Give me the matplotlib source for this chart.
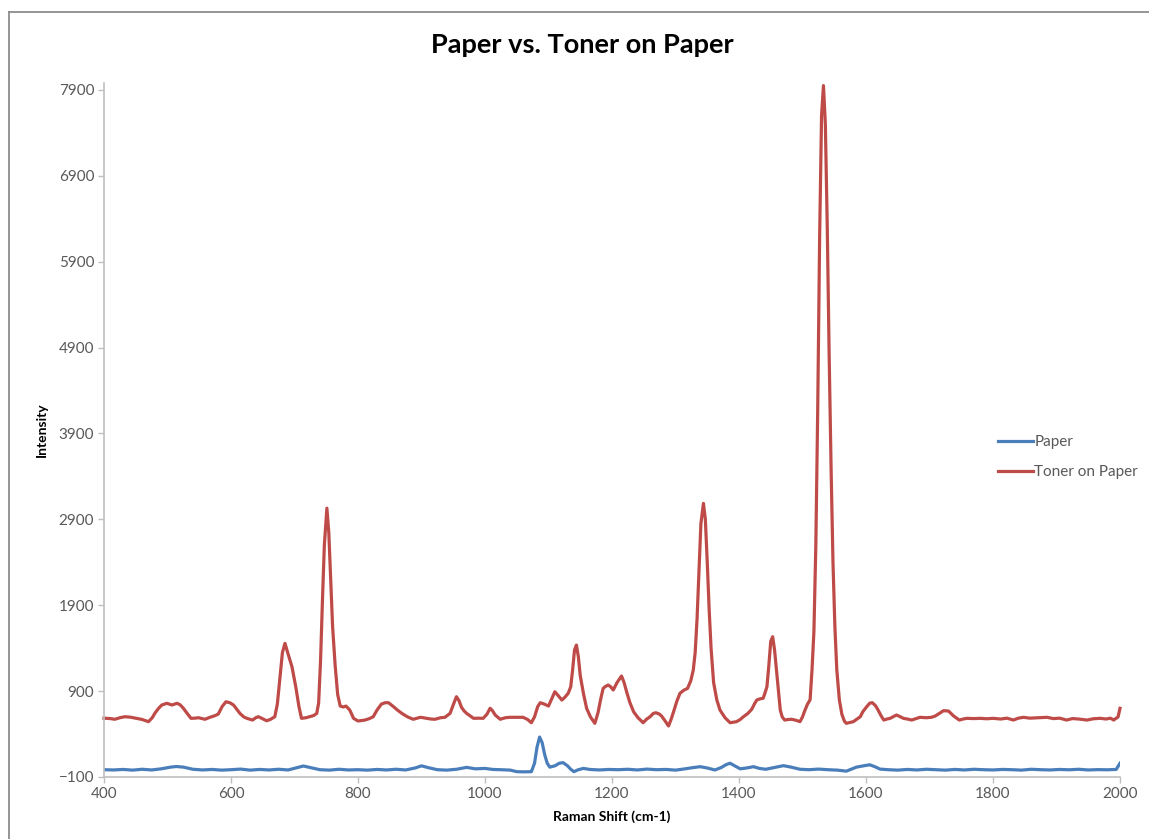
import matplotlib
matplotlib.use('Agg')
import matplotlib.pyplot as plt
from matplotlib.lines import Line2D

#%% Espectros Raman (cm-1, intensidad)

shift_toner = [400, 410, 417, 425, 433, 442, 451, 460, 470, 476, 480, 486, 491, 499, 507, 515, 520, 525, 531, 537,
               543, 549, 559, 565, 570, 575, 580, 586, 592, 598, 604, 609, 614, 620, 625, 634, 639, 643, 648, 656,
               662, 669, 673, 677, 681, 685, 690, 696, 702, 707, 711, 718, 724, 730, 735, 738, 741, 744, 747, 751,
               754, 757, 760, 764, 768, 772, 777, 781, 787, 793, 800, 811, 818, 824, 830, 837, 843, 848, 856, 862,
               869, 878, 887, 893, 898, 903, 908, 915, 921, 930, 937, 945, 950, 955, 959, 963, 967, 971, 977, 982,
               990, 997, 1003, 1008, 1012, 1016, 1024, 1032, 1039, 1050, 1060, 1067, 1073, 1078, 1083, 1087, 1093, 1100, 1105, 1110,
               1115, 1121, 1126, 1131, 1135, 1138, 1141, 1144, 1147, 1150, 1155, 1160, 1166, 1173, 1178, 1182, 1186, 1189, 1194, 1198,
               1202, 1208, 1215, 1219, 1223, 1228, 1234, 1241, 1249, 1254, 1260, 1265, 1269, 1274, 1278, 1283, 1289, 1293, 1297, 1302,
               1307, 1313, 1319, 1324, 1328, 1331, 1334, 1337, 1340, 1344, 1347, 1350, 1353, 1356, 1360, 1365, 1370, 1378, 1386, 1396,
               1402, 1407, 1414, 1420, 1425, 1428, 1433, 1438, 1441, 1444, 1447, 1450, 1453, 1456, 1459, 1462, 1465, 1468, 1472, 1478,
               1483, 1490, 1496, 1500, 1504, 1508, 1512, 1515, 1518, 1521, 1524, 1527, 1530, 1533, 1536, 1539, 1542, 1545, 1548, 1551,
               1554, 1558, 1562, 1566, 1569, 1575, 1580, 1586, 1591, 1595, 1601, 1606, 1610, 1615, 1619, 1624, 1628, 1633, 1638, 1648,
               1653, 1659, 1665, 1672, 1679, 1685, 1695, 1703, 1709, 1714, 1722, 1730, 1738, 1747, 1753, 1759, 1770, 1780, 1790, 1800,
               1812, 1822, 1832, 1840, 1848, 1858, 1870, 1885, 1895, 1905, 1916, 1925, 1935, 1948, 1958, 1969, 1978, 1985, 1990, 1995,
               1997, 2000]
int_toner = [585, 580, 572, 590, 602, 596, 583, 570, 544, 590, 641, 700, 738, 758, 738, 758, 740, 700, 640, 583,
             585, 590, 572, 590, 602, 615, 633, 720, 776, 765, 738, 690, 641, 600, 583, 563, 590, 602, 585, 555,
             570, 602, 750, 1050, 1350, 1456, 1330, 1184, 950, 720, 583, 590, 602, 615, 640, 760, 1250, 1950, 2600, 3030,
             2750, 2200, 1650, 1200, 860, 726, 715, 726, 680, 583, 552, 563, 580, 602, 680, 750, 765, 765, 718, 680,
             641, 600, 572, 585, 595, 590, 583, 575, 572, 590, 595, 641, 740, 835, 790, 711, 670, 641, 610, 583,
             585, 583, 630, 700, 670, 622, 572, 590, 595, 595, 595, 570, 532, 600, 720, 765, 750, 726, 810, 893,
             850, 796, 830, 874, 950, 1150, 1380, 1436, 1300, 1080, 874, 700, 600, 525, 650, 800, 930, 951, 971, 950,
             913, 1000, 1076, 1000, 893, 770, 660, 590, 532, 570, 602, 640, 648, 635, 610, 560, 494, 570, 660, 780,
             874, 910, 932, 1020, 1145, 1350, 1750, 2300, 2850, 3086, 2900, 2400, 1850, 1400, 1000, 800, 680, 590, 532, 544,
             570, 602, 640, 688, 760, 796, 810, 816, 880, 951, 1200, 1480, 1533, 1380, 1145, 900, 680, 600, 563, 570,
             572, 560, 544, 600, 680, 750, 800, 1150, 1600, 2600, 4200, 6200, 7600, 7950, 7500, 6300, 4800, 3500, 2400, 1650,
             1150, 800, 630, 550, 525, 535, 544, 575, 602, 660, 718, 760, 765, 730, 680, 610, 563, 575, 583, 622,
             605, 583, 575, 563, 580, 595, 590, 595, 610, 633, 672, 668, 610, 563, 575, 583, 580, 583, 578, 583,
             575, 585, 563, 585, 595, 585, 590, 595, 580, 585, 563, 580, 575, 563, 578, 583, 575, 585, 563, 590,
             600, 700]

shift_paper = [400, 415, 430, 445, 460, 475, 490, 505, 514, 525, 540, 555, 570, 585, 600, 615, 630, 645, 660, 675,
               690, 705, 714, 725, 740, 755, 770, 785, 800, 815, 830, 845, 860, 875, 890, 900, 910, 925, 940, 955,
               971, 985, 1000, 1012, 1025, 1040, 1050, 1062, 1073, 1078, 1082, 1086, 1090, 1094, 1098, 1102, 1110, 1117, 1123, 1130,
               1135, 1140, 1147, 1155, 1165, 1180, 1195, 1210, 1225, 1240, 1255, 1270, 1285, 1300, 1315, 1328, 1339, 1350, 1362, 1372,
               1380, 1386, 1392, 1402, 1412, 1423, 1432, 1442, 1455, 1470, 1482, 1496, 1510, 1525, 1540, 1555, 1569, 1578, 1585, 1596,
               1606, 1614, 1622, 1635, 1650, 1665, 1680, 1695, 1710, 1725, 1740, 1755, 1770, 1785, 1800, 1815, 1830, 1845, 1860, 1875,
               1890, 1905, 1920, 1935, 1950, 1965, 1980, 1994, 2000]
int_paper = [-15, -18, -12, -20, -10, -18, -5, 15, 22, 15, -10, -18, -12, -20, -15, -8, -20, -12, -18, -10,
             -18, 10, 28, 10, -15, -20, -10, -18, -15, -20, -12, -18, -10, -18, 5, 30, 10, -15, -20, -10,
             12, -5, 0, -12, -15, -20, -38, -40, -38, 60, 250, 365, 300, 160, 60, 15, 30, 60, 67, 30,
             -10, -38, -15, 0, -12, -18, -12, -15, -10, -18, -8, -15, -12, -20, -5, 10, 20, 5, -18, 10,
             45, 60, 35, -5, 5, 20, 0, -10, 10, 32, 15, -10, -15, -8, -15, -20, -32, -5, 15, 30,
             42, 20, -8, -15, -20, -12, -18, -10, -15, -20, -12, -18, -10, -15, -18, -12, -15, -20, -10, -15,
             -18, -12, -16, -10, -18, -14, -16, -12, 60]

y_ticks = [-100, 900, 1900, 2900, 3900, 4900, 5900, 6900, 7900]
x_ticks = [400, 600, 800, 1000, 1200, 1400, 1600, 1800, 2000]

#%% Figura

plt.rcParams['font.family'] = ['Lato', 'DejaVu Sans']
gris = '#595959'

fig = plt.figure(figsize=(11.49, 8.39), dpi=100)
ax = fig.add_axes([104/1149, 1 - 777/839, (1120 - 104)/1149, (777 - 83)/839])

ax.plot(shift_paper, int_paper, color='#4A7EBB', lw=2.3, label='Paper')
ax.plot(shift_toner, int_toner, color='#BE4B48', lw=2.3, label='Toner on Paper', clip_on=False)

ax.set_xlim(400, 2000)
ax.set_ylim(-100, 7980)
ax.set_xticks(x_ticks)
ax.set_yticks(y_ticks)
ax.tick_params(axis='both', direction='out', length=4, width=1, color='#BFBFBF',
               labelsize=11, labelcolor=gris, pad=3)

for s in ['top', 'right']:
    ax.spines[s].set_visible(False)
for s in ['left', 'bottom']:
    ax.spines[s].set_color('#BFBFBF')
    ax.spines[s].set_linewidth(1.2)

ax.set_xlabel('Raman Shift (cm-1)', fontsize=10, fontweight='bold', labelpad=7)
ax.set_ylabel('Intensity', fontsize=10, fontweight='bold', labelpad=8)
fig.text(582/1149, 1 - 45/839, 'Paper vs. Toner on Paper', ha='center', va='center',
         fontsize=19.5, fontweight='bold')

fig.legend(loc='center left', bbox_to_anchor=(984/1149, 1 - 457/839), frameon=False,
           fontsize=11, handlelength=2.3, handletextpad=0.1, labelspacing=1.05,
           labelcolor=gris)

# borde del área del gráfico
fig.add_artist(Line2D([9/1149, 9/1149], [0, 1 - 12/839], color='#8C8C8C', lw=1.3))
fig.add_artist(Line2D([9/1149, 1.01], [1 - 12/839, 1 - 12/839], color='#8C8C8C', lw=1.3))

fig.savefig('out.png', dpi=100)
